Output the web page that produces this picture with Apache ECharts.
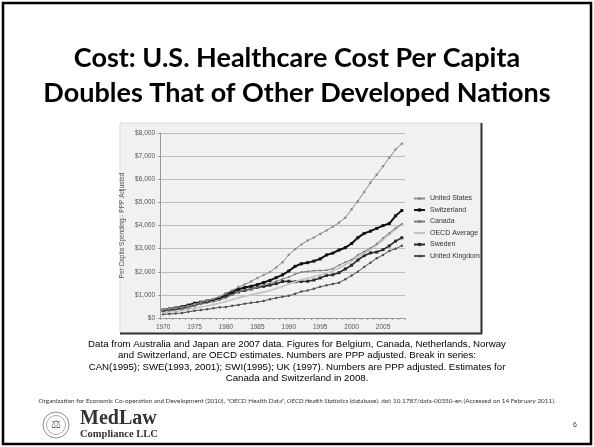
<!DOCTYPE html>
<html>
<head>
<meta charset="utf-8">
<script src="https://cdn.jsdelivr.net/npm/echarts@6/dist/echarts.min.js"></script>
<style>
html,body{margin:0;padding:0;background:#fff;}
#chart{width:594px;height:447px;}
</style>
</head>
<body>
<div id="chart"></div>
<script>
// ---- data ----
var years = ['1970','1971','1972','1973','1974','1975','1976','1977','1978','1979',
             '1980','1981','1982','1983','1984','1985','1986','1987','1988','1989',
             '1990','1991','1992','1993','1994','1995','1996','1997','1998','1999',
             '2000','2001','2002','2003','2004','2005','2006','2007','2008'];
var seriesNames = ['United States','Switzerland','Canada','OECD Average','Sweden','United Kingdom'];
var unitedStates = [356,386,427,470,522,593,670,750,825,918,
                    1055,1205,1337,1454,1581,1733,1857,1990,2187,2411,
                    2738,2973,3183,3350,3477,3637,3784,3943,4125,4340,
                    4703,5052,5453,5851,6194,6558,6931,7285,7538];
var switzerland = [351,389,431,485,555,637,686,737,800,885,
                   1033,1137,1246,1316,1370,1443,1536,1627,1745,1864,
                   2033,2233,2345,2394,2460,2556,2725,2804,2941,3040,
                   3221,3474,3657,3755,3876,3996,4086,4420,4650];
var canada = [294,328,359,391,447,525,600,652,705,768,
              870,1000,1128,1206,1262,1343,1426,1503,1593,1684,
              1769,1891,1985,2012,2045,2052,2067,2135,2285,2409,
              2519,2736,2873,3022,3208,3460,3671,3895,4079];
var oecdAverage = [240,262,290,322,365,425,478,520,578,635,
                   718,800,880,945,1000,1064,1118,1190,1272,1365,
                   1470,1565,1655,1720,1790,1858,1930,2030,2160,2300,
                   2450,2640,2800,2960,3150,3380,3600,3830,4030];
var sweden = [312,350,385,420,485,556,640,710,787,857,
              944,1044,1131,1195,1254,1331,1367,1422,1486,1578,
              1589,1570,1580,1590,1641,1733,1841,1868,1960,2120,
              2283,2507,2695,2815,2850,2956,3119,3323,3470];
var unitedKingdom = [159,176,196,218,265,312,346,375,417,462,
                     474,530,565,620,655,688,740,806,867,921,
                     960,1044,1145,1188,1265,1346,1412,1470,1528,1675,
                     1837,2000,2209,2390,2588,2724,2902,2992,3129];
var yTickMax = 8000, yTickStep = 1000;

var titleLines = ['Cost: U.S. Healthcare Cost Per Capita', 'Doubles That of Other Developed Nations'];
var noteLines = [
  'Data from Australia and Japan are 2007 data. Figures for Belgium, Canada, Netherlands, Norway',
  'and Switzerland, are OECD estimates. Numbers are PPP adjusted. Break in series:',
  'CAN(1995); SWE(1993, 2001); SWI(1995); UK (1997). Numbers are PPP adjusted. Estimates for',
  'Canada and Switzerland in 2008.'
];
var citation = '{n|Organization for Economic Co-operation and Development (2010), "OECD Health Data", }{i|OECD Health Statistics}{n| (database). doi: 10.1787/data-00350-en (Accessed on 14 February 2011).}';

// ---- chart ----
var chart = echarts.init(document.getElementById('chart'), null, {renderer: 'canvas'});
var axisFont = 'Liberation Sans';

var styles = [
  {color: '#8c8c8c', width: 1,   symbol: 'circle', size: 2.5},
  {color: '#111111', width: 2,   symbol: 'rect',   size: 3},
  {color: '#7a7a7a', width: 1,   symbol: 'circle', size: 2},
  {color: '#c4c4c4', width: 1.6, symbol: 'circle', size: 2},
  {color: '#2b2b2b', width: 1.6, symbol: 'rect',   size: 3},
  {color: '#505050', width: 1,   symbol: 'circle', size: 2.5}
];
var dataSets = [unitedStates, switzerland, canada, oecdAverage, sweden, unitedKingdom];
var series = dataSets.map(function (d, i) {
  var s = styles[i];
  return {
    name: seriesNames[i], type: 'line', data: d,
    symbol: s.symbol, symbolSize: s.size, showSymbol: true,
    lineStyle: {color: s.color, width: s.width},
    itemStyle: {color: s.color},
    animation: false, z: 10 - i
  };
});

var graphics = [
  {type: 'rect', shape: {x: 3, y: 3, width: 588, height: 441}, style: {fill: null, stroke: '#000', lineWidth: 2.5}, z: -10},
  // chart panel
  {type: 'rect', shape: {x: 120, y: 123, width: 361, height: 210}, style: {fill: '#f1f1f1', stroke: '#dcdcdc', lineWidth: 1}, z: -5},
  {type: 'line', shape: {x1: 481.5, y1: 123, x2: 481.5, y2: 334}, style: {stroke: '#333', lineWidth: 2}, z: -4},
  {type: 'line', shape: {x1: 120, y1: 333.5, x2: 482, y2: 333.5}, style: {stroke: '#333', lineWidth: 2}, z: -4},
  // title
  {type: 'text', left: 'center', top: 45, style: {text: titleLines[0], font: 'bold 27px Lato', fill: '#000', textAlign: 'center'}},
  {type: 'text', left: 'center', top: 80, style: {text: titleLines[1], font: 'bold 27px Lato', fill: '#000', textAlign: 'center'}},
  // logo
  {type: 'circle', shape: {cx: 56, cy: 425, r: 13}, style: {fill: '#fff', stroke: '#8a8a8a', lineWidth: 1}},
  {type: 'circle', shape: {cx: 56, cy: 425, r: 9.5}, style: {fill: '#fff', stroke: '#9a9a9a', lineWidth: 0.8}},
  {type: 'text', x: 56, y: 425, style: {text: '\u2696', font: '11px "DejaVu Sans"', fill: '#555', textAlign: 'center', textVerticalAlign: 'middle'}},
  {type: 'text', x: 80, y: 419, style: {text: 'MedLaw', font: 'bold 20px "Liberation Serif"', fill: '#333', textVerticalAlign: 'middle'}},
  {type: 'text', x: 80, y: 434, style: {text: 'Compliance LLC', font: 'bold 10.5px "Liberation Serif"', fill: '#333', textVerticalAlign: 'middle'}},
  {type: 'text', x: 573, y: 425, style: {text: '6', font: '7px "Liberation Sans"', fill: '#333', textVerticalAlign: 'middle'}},
  // citation
  {type: 'text', left: 'center', top: 398, style: {text: citation, textAlign: 'center', fill: '#333',
      rich: {n: {fontFamily: 'Lato', fontSize: 6.4, fill: '#333'}, i: {fontFamily: 'Lato', fontStyle: 'italic', fontSize: 6.4, fill: '#333'}}}}
];
noteLines.forEach(function (t, i) {
  graphics.push({type: 'text', left: 'center', top: 339 + i * 11.6,
    style: {text: t, font: '9.7px "Liberation Sans"', fill: '#000', textAlign: 'center'}});
});

chart.setOption({
  animation: false,
  backgroundColor: '#fff',
  grid: {left: 160, top: 133, width: 245, height: 185, containLabel: false},
  legend: {
    orient: 'vertical', left: 413, top: 195, itemWidth: 11, itemHeight: 4, itemGap: 4.5,
    padding: 0, data: seriesNames,
    textStyle: {fontFamily: axisFont, fontSize: 7, color: '#333'}
  },
  xAxis: {
    type: 'category', data: years, boundaryGap: true,
    axisLine: {lineStyle: {color: '#9a9a9a', width: 1}},
    axisTick: {show: true, interval: 0, length: 2, lineStyle: {color: '#9a9a9a'}},
    axisLabel: {interval: 4, fontFamily: axisFont, fontSize: 6.5, color: '#555', margin: 6},
    splitLine: {show: false}
  },
  yAxis: {
    type: 'value', min: 0, max: yTickMax, interval: yTickStep,
    name: 'Per Capita Spending - PPP Adjusted', nameLocation: 'middle', nameRotate: 90, nameGap: 34,
    nameTextStyle: {fontFamily: axisFont, fontSize: 6.5, color: '#555'},
    axisLine: {show: true, lineStyle: {color: '#9a9a9a'}},
    axisTick: {show: true, length: 2, lineStyle: {color: '#9a9a9a'}},
    axisLabel: {fontFamily: axisFont, fontSize: 6.5, color: '#555', margin: 5,
      formatter: function (v) { return '$' + v.toLocaleString('en-US'); }},
    splitLine: {lineStyle: {color: '#bdbdbd', width: 1}}
  },
  series: series,
  graphic: {elements: graphics}
});
</script>
</body>
</html>
